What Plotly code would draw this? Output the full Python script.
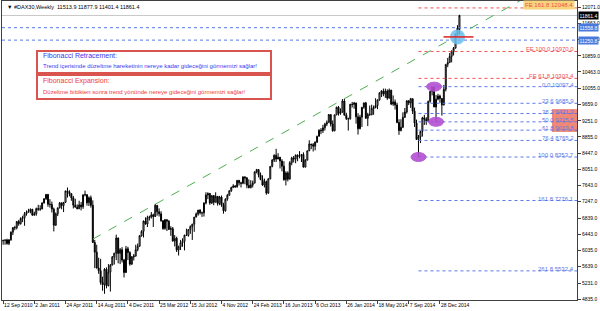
import plotly.graph_objects as go
import pandas as pd

# ---------------- data (weekly DAX30) ----------------
start_week = "2010-09-12"
opens = [6280,6290,6300,6211,6300,6490,6605,6600,6754,6700,
         6830,6849,6947,6985,7010,7057,6914,6948,7075,7062,
         7067,7216,7321,7426,7185,7178,7064,6664,6946,7095,
         7217,7150,7230,7514,7492,7447,7343,7160,7109,7070,
         7165,7121,7419,7420,7220,7344,7158,6236,5997,5603,
         5537,5246,5189,5574,5164,5502,5676,5879,5971,6346,
         5966,6057,5800,5492,6080,5986,5701,5878,5898,6057,
         6143,6404,6511,6766,6692,6849,6864,6921,6880,7157,
         6996,6947,6775,6583,6801,6762,6561,6579,6271,6339,
         6050,6130,6229,6263,6416,6410,6557,6630,6689,6865,
         6944,7040,6972,6970,7214,7412,7451,7216,7398,7233,
         7380,7203,7363,7163,7021,7309,7405,7518,7597,7636,
         7612,7776,7715,7702,7857,7833,7652,7593,7661,7708,
         7986,8043,7913,7795,7658,7744,7459,7814,8122,8279,
         8398,8305,8349,8254,8127,7790,7959,7806,8212,8331,
         8302,8398,8367,8391,8416,8103,8276,8509,8675,8661,
         8622,8725,8869,9018,9006,9078,9168,9213,9405,9172,
         9006,9400,9589,9435,9473,9742,9392,9306,9301,9662,
         9656,9692,9350,9056,9342,9587,9695,9315,9409,9401,
         9556,9581,9630,9768,9943,9987,9912,9987,9815,10009,
         9666,9720,9644,9210,9009,9092,9339,9470,9747,9691,
         9799,9490,9195,8788,8850,8988,9326,9291,9252,9733,
         9980,10087,9594,9787,9865,9806,9648,10032,10649,10694,
         10846,10963,11050,11401,11513.9]
highs = [6300,6300,6330,6320,6510,6610,6650,6770,6796,6860,
         6900,6990,7030,7070,7080,7070,7000,7100,7170,7160,
         7230,7330,7441,7440,7310,7250,7100,6980,7100,7240,
         7230,7240,7514,7600,7530,7450,7390,7320,7180,7270,
         7240,7420,7520,7430,7380,7400,7280,6300,6180,5860,
         5830,5390,5600,5620,5700,5700,5900,5980,6430,6360,
         6100,6120,5830,6150,6130,6020,5900,5950,6180,6210,
         6420,6540,6780,6860,6900,6900,6990,6950,7194,7160,
         7080,7010,6790,6820,6810,6790,6640,6620,6420,6380,
         6160,6300,6340,6430,6580,6560,6660,6700,6870,6980,
         7040,7060,7000,7230,7480,7480,7460,7400,7410,7480,
         7380,7390,7400,7220,7330,7440,7530,7620,7680,7660,
         7780,7780,7740,7880,7880,7860,7800,7780,7770,8000,
         8060,8050,7970,7900,7820,7770,7830,8130,8300,8420,
         8557,8450,8350,8300,8250,8000,8000,8250,8360,8380,
         8420,8420,8500,8430,8470,8300,8510,8770,8680,8700,
         8740,8880,9040,9070,9150,9200,9260,9420,9410,9260,
         9400,9600,9620,9560,9790,9800,9450,9330,9670,9720,
         9720,9700,9440,9400,9590,9700,9720,9450,9630,9650,
         9630,9810,9780,9960,10010,10050,10050,10030,10051,10020,
         9880,9780,9700,9290,9290,9460,9570,9760,9760,9820,
         9800,9580,9280,8900,9000,9350,9400,9340,9750,9990,
         10087,10097.4,9890,9920,9900,9810,10140,10650,10810,10930,
         11000,11080,11420,11620,11877.9]
lows = [6180,6180,6180,6170,6280,6420,6540,6560,6650,6680,
        6740,6650,6900,6980,6960,6900,6900,6900,7020,7020,
        7060,7200,7290,7120,7100,6980,6510,6650,6890,7080,
        7060,6990,7220,7350,7380,7270,7080,7110,7060,7070,
        7030,7070,7380,7150,7140,7100,6230,5600,5590,5460,
        5190,5040,4965,5100,5150,5020,5670,5690,5800,5720,
        5700,5740,5370,5480,5800,5660,5680,5790,5890,6020,
        6130,6380,6360,6680,6620,6780,6830,6620,6870,6900,
        6880,6750,6550,6550,6520,6550,6400,6260,6140,6000,
        5914,6050,6130,6040,6400,6380,6450,6300,6500,6860,
        6900,6930,6870,6880,7180,7310,7170,7190,7160,7230,
        7150,7160,7120,6950,7000,7270,7400,7490,7590,7600,
        7600,7650,7600,7680,7680,7580,7580,7580,7600,7700,
        7950,7850,7780,7640,7600,7420,7440,7800,8100,8230,
        8230,8300,8070,8000,7770,7650,7750,7800,8150,8220,
        8200,8250,8320,8230,8100,8100,8270,8500,8550,8490,
        8520,8700,8860,8920,8950,9010,9120,9200,9110,8980,
        8990,9390,9380,9400,9450,9380,9270,9010,9280,9580,
        9550,9180,8910,9040,9100,9550,9300,9120,9380,9390,
        9400,9560,9540,9750,9840,9860,9820,9770,9800,9640,
        9620,9530,9190,8903,8990,9070,9320,9430,9640,9570,
        9420,9100,8780,8353.7,8700,8860,9150,9150,9220,9700,
        9880,9590,9220,9760,9700,9380,9630,9980,10580,10690,
        10700,10870,11050,11360,11401.4]
closes = [6290,6300,6211,6301,6492,6606,6601,6754,6700,6830,
          6849,6947,6985,7010,7057,6914,6948,7075,7062,7067,
          7216,7321,7426,7185,7178,7064,6664,6946,7095,7217,
          7150,7230,7514,7492,7447,7343,7160,7110,7070,7165,
          7121,7419,7420,7220,7344,7158,6236,5997,5603,5537,
          5246,5189,5574,5164,5502,5676,5879,5971,6346,5966,
          6057,5800,5492,6080,5986,5701,5878,5898,6057,6143,
          6404,6511,6766,6692,6849,6864,6921,6880,7157,6996,
          6947,6775,6583,6801,6762,6561,6579,6271,6339,6050,
          6130,6229,6263,6416,6410,6557,6630,6689,6865,6944,
          7040,6972,6970,7214,7412,7451,7216,7398,7233,7380,
          7203,7363,7163,7021,7309,7405,7518,7597,7636,7612,
          7776,7715,7702,7857,7833,7652,7593,7661,7708,7986,
          8043,7913,7795,7658,7744,7459,7814,8122,8279,8398,
          8305,8349,8254,8127,7790,7959,7806,8212,8331,8302,
          8398,8367,8391,8416,8103,8276,8509,8675,8661,8622,
          8725,8869,9018,9006,9078,9168,9213,9405,9172,9006,
          9400,9589,9435,9473,9742,9392,9306,9301,9662,9656,
          9692,9350,9056,9342,9587,9695,9315,9409,9401,9556,
          9581,9630,9768,9943,9987,9912,9987,9815,10009,9666,
          9720,9644,9210,9009,9092,9339,9470,9747,9691,9799,
          9490,9195,8788,8850,8988,9326,9291,9252,9733,9980,
          10087,9594,9787,9865,9806,9648,10032,10649,10694,10846,
          10963,11050,11401,11550,11861.4]
assert len(opens) == len(highs) == len(lows) == len(closes)

title_text = "\u25bc #DAX30,Weekly  11513.9 11877.9 11401.4 11861.4"

x_tick_dates = ["2010-09-12", "2011-01-02", "2011-04-24", "2011-08-14", "2011-12-04",
                "2012-03-25", "2012-07-15", "2012-11-04", "2013-02-24", "2013-06-16",
                "2013-10-06", "2014-01-26", "2014-05-18", "2014-09-07", "2014-12-28"]
x_tick_labels = ["12 Sep 2010", "2 Jan 2011", "24 Apr 2011", "14 Aug 2011", "4 Dec 2011",
                 "25 Mar 2012", "15 Jul 2012", "4 Nov 2012", "24 Feb 2013", "16 Jun 2013",
                 "6 Oct 2013", "26 Jan 2014", "18 May 2014", "7 Sep 2014", "28 Dec 2014"]
y_ticks = [4835, 5231, 5639, 6035, 6443, 6839, 7247, 7643, 8051, 8447, 8855,
           9251, 9659, 10055, 10463, 10859, 11267, 11663, 12071]

fib_pct = [0.0, 23.6, 38.2, 50.0, 61.8, 76.4, 100.0, 161.8, 261.8]
fib_val = [10097.4, 9685.9, 9431.3, 9225.5, 9019.8, 8765.2, 8353.7, 7276.1, 5532.4]
fe_pct = [61.8, 100.0, 161.8]
fe_val = [10303.4, 10970.0, 12048.4]
level_lines = [11558.8, 11250.8]
last_price = 11861.4

swing_dates = ["2014-10-12", "2014-12-07", "2014-12-14"]
swing_vals = [8353.7, 10097.4, 9226.8]
trend_dates = ["2011-07-31", "2015-11-15"]
trend_vals = [6320, 12360]
cross_date = "2015-03-01"
cross_val = 11330

box1_title = "Fibonacci Retracement:"
box1_text = "Trend içerisinde düzeltme hareketinin nereye kadar gideceğini görmemizi sağlar!"
box2_title = "Fibonacci Expansion:"
box2_text = "Düzeltme bittikten sonra trend yönünde nereye gideceğini görmemizi sağlar!"

# ---------------- figure ----------------
dates = pd.date_range(start_week, periods=len(closes), freq="7D")
x_range = ["2010-09-08", "2016-05-03"]
FONT = "Liberation Sans"
BLUE = "#5b78e8"
RED = "#f05050"

fig = go.Figure()
fig.add_trace(go.Candlestick(
    x=dates, open=opens, high=highs, low=lows, close=closes,
    increasing=dict(line=dict(color="#000000", width=1), fillcolor="#ffffff"),
    decreasing=dict(line=dict(color="#000000", width=1), fillcolor="#000000"),
    whiskerwidth=0, showlegend=False, hoverinfo="skip"))

shapes = []
shapes.append(dict(type="line", xref="paper", x0=0, x1=1, yref="y", y0=last_price, y1=last_price,
                   line=dict(color="#c8c8c8", width=1), layer="below"))
for v in level_lines:
    shapes.append(dict(type="line", xref="paper", x0=0, x1=1, yref="y", y0=v, y1=v,
                       line=dict(color=BLUE, width=1, dash="dot")))
for v in fib_val:
    shapes.append(dict(type="line", xref="x", x0=swing_dates[0], x1=x_range[1], yref="y", y0=v, y1=v,
                       line=dict(color=BLUE, width=1, dash="dot")))
for v in fe_val:
    shapes.append(dict(type="line", xref="x", x0=swing_dates[0], x1=x_range[1], yref="y", y0=v, y1=v,
                       line=dict(color=RED, width=1, dash="dot")))
shapes.append(dict(type="rect", xref="paper", x0=(552 - 2) / 575, x1=1, yref="y",
                   y0=fib_val[4] - 45, y1=fib_val[2] + 110,
                   fillcolor="#f08878", line=dict(width=0), layer="below"))
shapes.append(dict(type="line", xref="x", yref="y", x0=trend_dates[0], x1=trend_dates[1],
                   y0=trend_vals[0], y1=trend_vals[1],
                   line=dict(color="#4caf50", width=1, dash="dash")))
for d, v in zip(swing_dates, swing_vals):
    shapes.append(dict(type="circle", xref="x", yref="y", xsizemode="pixel", ysizemode="pixel",
                       xanchor=d, yanchor=v, x0=-7.5, x1=7.5, y0=-4.5, y1=4.5,
                       fillcolor="#b24fd2", line=dict(color="#b24fd2", width=1), opacity=0.9))
shapes.append(dict(type="circle", xref="x", yref="y", xsizemode="pixel", ysizemode="pixel",
                   xanchor=cross_date, yanchor=cross_val, x0=-7.5, x1=7.5, y0=-7.5, y1=7.5,
                   fillcolor="#6cc0ee", line=dict(width=0), opacity=0.85))
shapes.append(dict(type="line", xref="x", yref="y", xsizemode="pixel", xanchor=cross_date,
                   x0=-14, x1=16, y0=cross_val, y1=cross_val,
                   line=dict(color="#e02020", width=1.5)))
PW, PH = 575, 299
def px(x):
    return (x - 2) / PW
def py(y):
    return 1 - (y - 1) / PH
shapes.append(dict(type="rect", xref="paper", yref="paper", x0=px(37), x1=px(271), y0=py(73), y1=py(51),
                   line=dict(color="#d9534f", width=2), fillcolor="#ffffff"))
shapes.append(dict(type="rect", xref="paper", yref="paper", x0=px(37), x1=px(271), y0=py(99), y1=py(75),
                   line=dict(color="#d9534f", width=2), fillcolor="#ffffff"))

ann = []
ann.append(dict(xref="paper", yref="paper", x=0, y=1, xanchor="left", yanchor="top", xshift=3, yshift=-1,
                text=title_text, showarrow=False, font=dict(family=FONT, size=5.5, color="#000000")))
for p, v in zip(fib_pct, fib_val):
    ann.append(dict(xref="paper", yref="y", x=1, y=v, xanchor="right", yanchor="bottom", xshift=-2, yshift=-2,
                    text=f"{p:.1f} {v:.1f}", showarrow=False, borderpad=0,
                    font=dict(family=FONT, size=6, color=BLUE)))
for p, v in zip(fe_pct, fe_val):
    a = dict(xref="paper", yref="y", x=1, y=v, xanchor="right", yanchor="bottom", xshift=-2, yshift=-2,
             text=f"FE {p:.1f} {v:.1f}", showarrow=False, borderpad=0,
             font=dict(family=FONT, size=6, color=RED))
    if p > 150:
        a["bgcolor"] = "#f8d47c"
        a["borderpad"] = 1
    ann.append(a)
ann.append(dict(xref="paper", yref="y", x=1, y=last_price, xanchor="left", yanchor="middle", xshift=1,
                text=f"{last_price:.1f}", showarrow=False, bgcolor="#000000", borderpad=0.5,
                font=dict(family=FONT, size=5, color="#ffffff")))
for v in level_lines:
    ann.append(dict(xref="paper", yref="y", x=1, y=v, xanchor="left", yanchor="middle", xshift=1,
                    text=f"{v:.1f}", showarrow=False, bgcolor="#4a78dc", borderpad=0.5,
                    font=dict(family=FONT, size=5, color="#ffffff")))
for txt, yy, col, sz in [(box1_title, 55, "#3a3af0", 7), (box1_text, 66, "#3a3af0", 6),
                         (box2_title, 81, "#f03a3a", 7), (box2_text, 92, "#f03a3a", 6)]:
    ann.append(dict(xref="paper", yref="paper", x=px(41), y=py(yy), xanchor="left", yanchor="middle",
                    text=txt, showarrow=False, font=dict(family=FONT, size=sz, color=col)))

fig.update_layout(
    width=600, height=311,
    margin=dict(l=2, r=23, t=1, b=11),
    paper_bgcolor="#ffffff", plot_bgcolor="#ffffff",
    shapes=shapes, annotations=ann, showlegend=False,
    xaxis=dict(type="date", range=x_range, rangeslider=dict(visible=False),
               tickvals=x_tick_dates, ticktext=x_tick_labels, tickangle=0, ticks="outside", ticklen=3,
               tickcolor="#404040", ticklabelposition="outside right",
               tickfont=dict(family=FONT, size=5, color="#000000"),
               showgrid=False, zeroline=False, showline=True, linecolor="#404040", linewidth=1, mirror=True),
    yaxis=dict(side="right", range=[4811, 12220], tickvals=y_ticks,
               ticktext=[f"{t:.1f}" for t in y_ticks], ticks="outside", ticklen=3, tickcolor="#404040",
               tickfont=dict(family=FONT, size=5, color="#000000"),
               showgrid=False, zeroline=False, showline=True, linecolor="#404040", linewidth=1, mirror=True),
)

fig.write_html("out.html")
